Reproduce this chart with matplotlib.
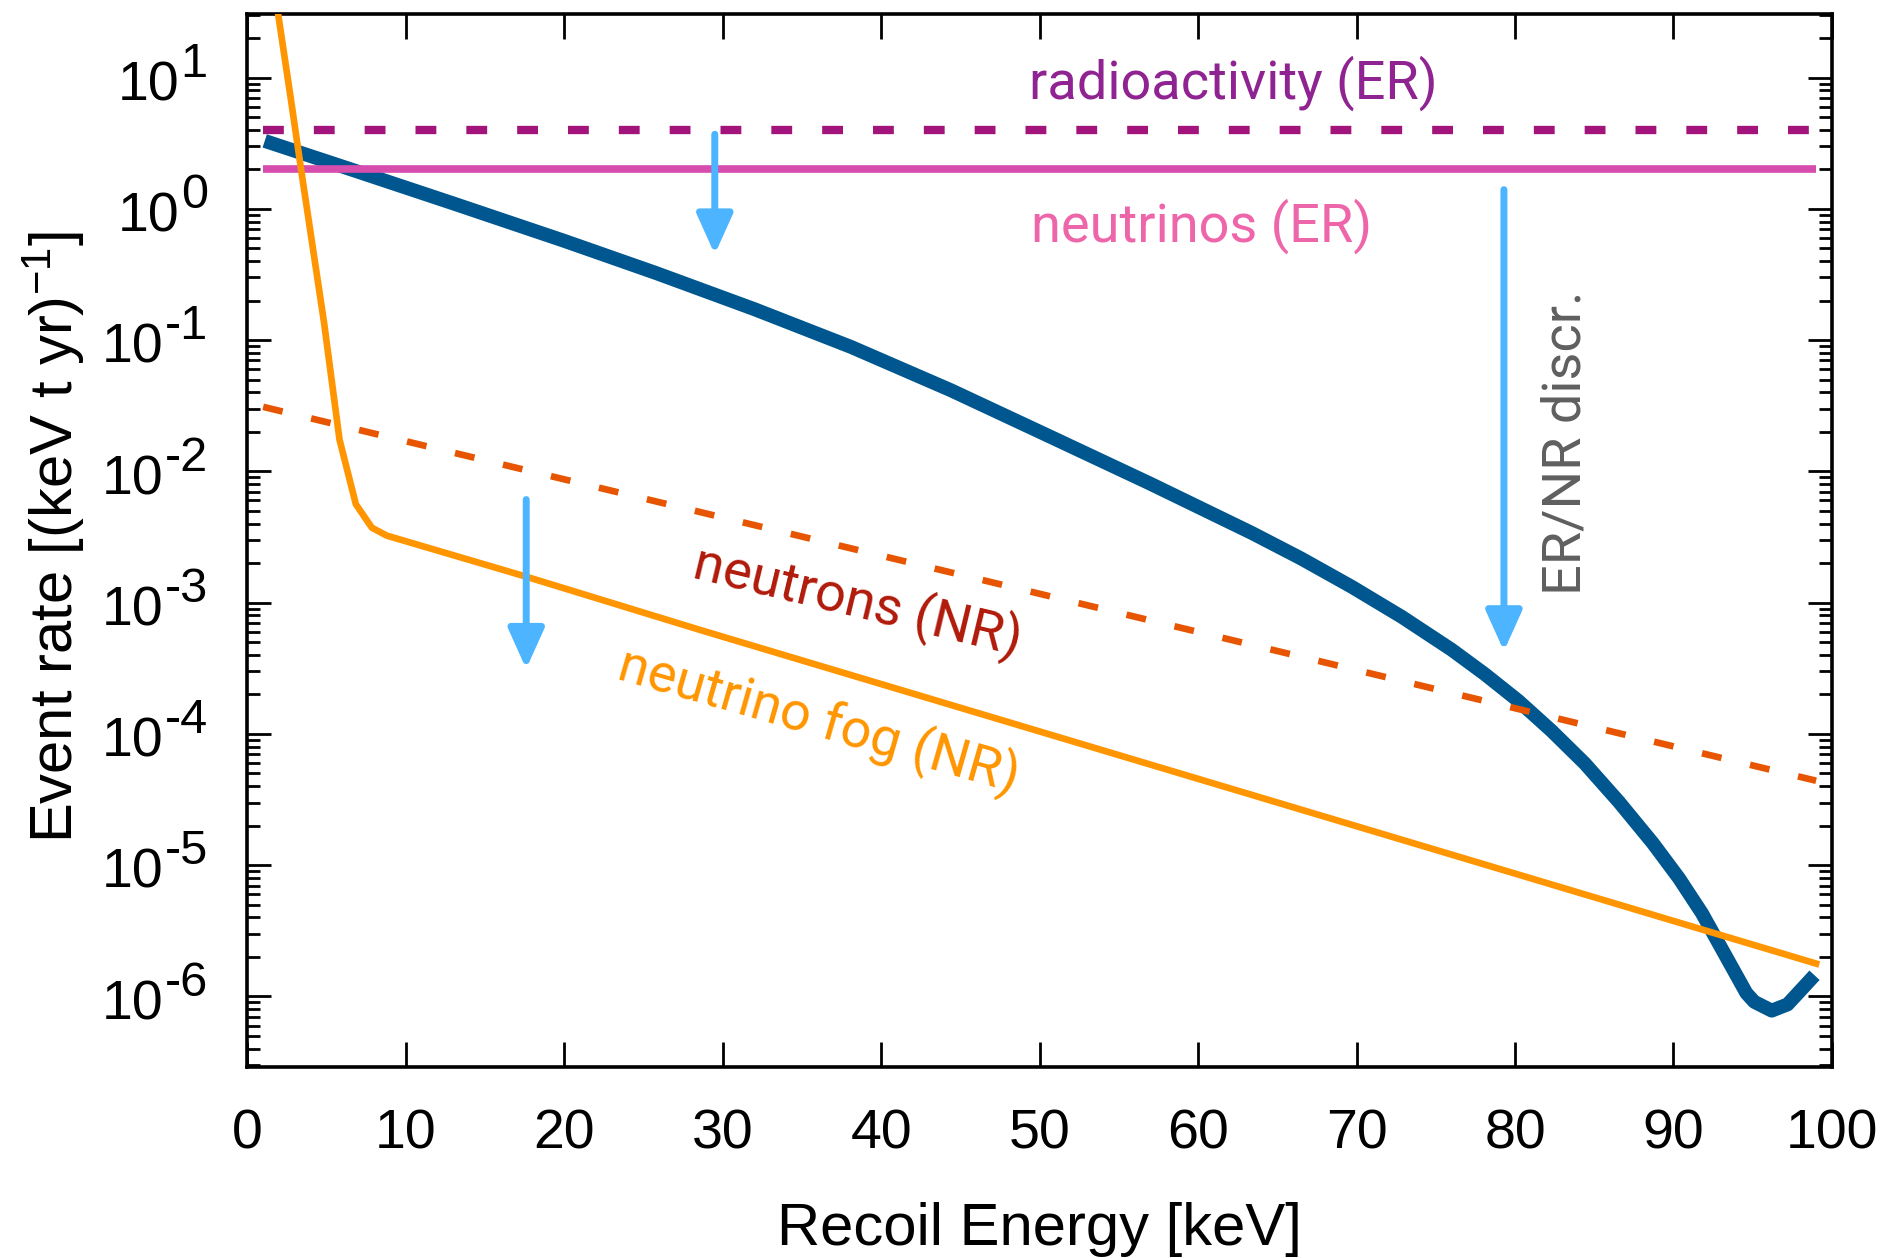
import numpy as np
import matplotlib
matplotlib.use('Agg')
import matplotlib.pyplot as plt
from matplotlib import transforms

plt.rcParams['font.family'] = ['Liberation Sans', 'DejaVu Sans']
plt.rcParams['mathtext.fontset'] = 'custom'
plt.rcParams['mathtext.rm'] = 'Liberation Sans'
plt.rcParams['mathtext.it'] = 'Liberation Sans:italic'

# ---- values ----
flat_x = [1, 99]
radioactivity_er = [4.0, 4.0]
neutrinos_er = [2.0, 2.0]

signal_x = [1.1, 6.8, 13.1, 20.0, 25.8, 32.0, 38.1, 44.4, 50.7, 57.0, 63.4,
            66.5, 69.7, 72.85, 76.0, 78.1, 80.2, 82.3, 84.4, 86.55, 88.7,
            90.35, 91.8, 94.6, 95.1, 96.2, 97.2, 98.9]
signal_rate = [3.29, 1.95, 1.089, 0.570, 0.324, 0.172, 0.0887, 0.0415,
               0.0183, 8.04e-3, 3.39e-3, 2.17e-3, 1.32e-3, 7.80e-4, 4.38e-4,
               2.85e-4, 1.79e-4, 1.057e-4, 5.96e-5, 3.04e-5, 1.47e-5, 7.94e-6,
               4.30e-6, 1.06e-6, 9.1e-7, 7.8e-7, 8.7e-7, 1.45e-6]

neutrons_x = [1, 99]
neutrons_nr = [0.031, 4.4e-5]

fog_x = [1.5, 1.95, 2.76, 3.40, 4.85, 5.82, 6.85, 7.86, 8.8, 17.65, 28.6, 99]
fog_nr = [70.8, 30.2, 6.70, 1.97, 0.134, 0.0174, 5.62e-3, 3.72e-3, 3.24e-3,
          1.57e-3, 6.18e-4, 1.78e-6]

# reduction arrows: x, start, tip
arrow_x = [29.5, 17.6, 79.3]
arrow_top = [3.7, 6.1e-3, 1.40]
arrow_tip = [0.45, 3.13e-4, 4.27e-4]

decades = [1, 0, -1, -2, -3, -4, -5, -6]
xticks = [0, 10, 20, 30, 40, 50, 60, 70, 80, 90, 100]

fig = plt.figure(figsize=(18.98, 12.58), dpi=100)
ax = fig.add_axes([0.1303, 0.1518, 0.8349, 0.8371])

ax.plot(signal_x, signal_rate, color='#00578f', lw=10, solid_joinstyle='round',
        solid_capstyle='butt', zorder=2)
ax.plot(flat_x, neutrinos_er, color='#d64dae', lw=5.5, solid_capstyle='butt', zorder=3)
ax.plot(flat_x, radioactivity_er, color='#a2147c', lw=6, dashes=(2.5, 3.6), zorder=3)
ax.plot(neutrons_x, neutrons_nr, color='#e85500', lw=4.8, dashes=(3, 4.4), zorder=4)
ax.plot(fog_x, fog_nr, color='#ff9500', lw=4.8, zorder=5)

for xa, ya, yb in zip(arrow_x, arrow_top, arrow_tip):
    ax.annotate('', xy=(xa, yb), xytext=(xa, ya),
                arrowprops=dict(arrowstyle='-|>,head_length=1.0,head_width=0.45',
                                mutation_scale=24.5, lw=5, color='#4db4ff',
                                shrinkA=0, shrinkB=0),
                zorder=6)

ax.set_yscale('log')
ax.set_xlim(0, 100)
ax.set_ylim(2.9e-7, 30.5)
ax.set_xticks(xticks)
ax.tick_params(axis='x', which='major', direction='in', length=18, width=2,
               top=True, labelsize=40, pad=30)
ax.tick_params(axis='x', which='minor', bottom=False, top=False)
ax.tick_params(axis='y', which='major', direction='in', length=17, width=2,
               right=True, labelleft=False)
ax.tick_params(axis='y', which='minor', direction='in', length=9.5, width=2,
               right=True, labelleft=False)
ax.yaxis.set_major_locator(matplotlib.ticker.LogLocator(base=10, numticks=20))
ax.yaxis.set_minor_locator(matplotlib.ticker.LogLocator(base=10, subs=np.arange(2, 10), numticks=20))
for sp in ax.spines.values():
    sp.set_linewidth(2.6)

ax.set_xlabel('Recoil Energy [keV]', fontsize=43, labelpad=30)
fig.text(54 / 1898, 1 - 537 / 1258, r'Event rate [(keV t yr)$^{\mathregular{-1}}$]',
         rotation=90, ha='center', va='center', fontsize=43)

# y tick labels: "10" with a large exponent
blend = transforms.blended_transform_factory(ax.transAxes, ax.transData)
fig.canvas.draw()
renderer = fig.canvas.get_renderer()
for k in decades:
    t_exp = ax.annotate(str(k), xy=(0, 10.0 ** k), xycoords=blend,
                        xytext=(-28.5, 0.5), textcoords='offset points',
                        ha='right', va='baseline', fontsize=35)
    bb = t_exp.get_window_extent(renderer)
    w_pt = bb.width * 72 / fig.dpi
    ax.annotate('10', xy=(0, 10.0 ** k), xycoords=blend,
                xytext=(-28.5 - w_pt - 1, -16.3), textcoords='offset points',
                ha='right', va='baseline', fontsize=40)

# curve labels
lab = dict(family=['Roboto', 'DejaVu Sans'], fontsize=39)
ax.text(62.2, 10 ** 0.84, 'radioactivity (ER)', color='#8f2391', ha='center',
        va='baseline', **lab)
ax.text(60.2, 10 ** -0.252, 'neutrinos (ER)', color='#ee66aa', ha='center',
        va='baseline', **lab)
ax.text(38.5, 10 ** -2.99, 'neutrons (NR)', color='#b01a0a', ha='center',
        va='center', rotation=-13.5, rotation_mode='anchor', **lab)
ax.text(36.1, 10 ** -3.90, 'neutrino fog (NR)', color='#ff9500', ha='center',
        va='center', rotation=-16, rotation_mode='anchor', **lab)
ax.text(83.2, 10 ** -1.785, 'ER/NR discr.', color='#5f5f5f', ha='center',
        va='center', rotation=90, **lab)

fig.savefig('out.png', dpi=100)
